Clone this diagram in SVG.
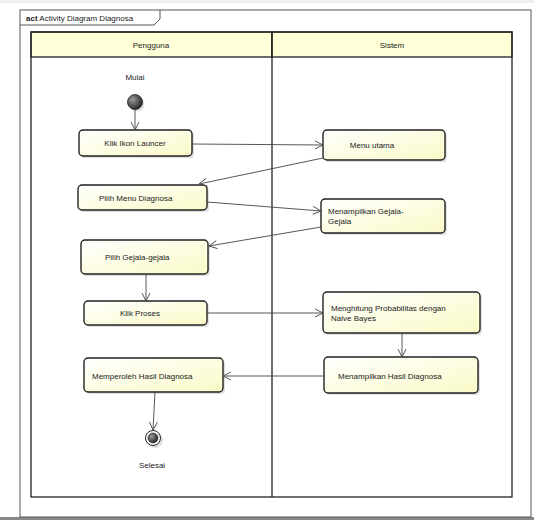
<svg xmlns="http://www.w3.org/2000/svg" width="534" height="520" viewBox="0 0 534 520">
<style>
text{font-family:"Liberation Sans",Arial,sans-serif;font-size:8px;fill:#222}
.act{fill:url(#g);stroke:#222;stroke-width:1.4}
.sh{fill:#ccc;opacity:0.6}
.c{fill:none;stroke:#444;stroke-width:0.9;marker-end:url(#a)}
.lane{fill:none;stroke:#222;stroke-width:1.3}
</style>
<defs>
<linearGradient id="g" x1="0" y1="0" x2="1" y2="1">
<stop offset="0" stop-color="#ffffff"/>
<stop offset="1" stop-color="#fafac8"/>
</linearGradient>
<radialGradient id="b" cx="0.35" cy="0.35" r="0.7">
<stop offset="0" stop-color="#999"/>
<stop offset="1" stop-color="#222"/>
</radialGradient>
<marker id="a" markerWidth="10" markerHeight="10" refX="9" refY="5" orient="auto" markerUnits="userSpaceOnUse">
<path d="M1,1 L9,5 L1,9" fill="none" stroke="#444" stroke-width="0.9"/>
</marker>
</defs>
<rect width="534" height="520" fill="#fff"/>
<rect x="0" y="0" width="534" height="3" fill="#eee"/>
<rect x="0" y="517" width="534" height="3" fill="#888"/>
<g id="frame">
<rect x="20" y="10" width="511" height="507" fill="none" stroke="#555" stroke-width="1"/>
<path d="M20,25 H154 L160,19 V10" fill="none" stroke="#555" stroke-width="1"/>
<text x="26" y="21"><tspan font-weight="bold">act</tspan> Activity Diagram Diagnosa</text>
</g>
<g id="lanes">
<rect x="31" y="32" width="241" height="25" fill="#ffffd8" stroke="#222" stroke-width="1.3"/>
<rect x="272" y="32" width="240" height="25" fill="#ffffd8" stroke="#222" stroke-width="1.3"/>
<rect x="31" y="32" width="481" height="465" class="lane"/>
<line x1="272" y1="32" x2="272" y2="497" stroke="#222" stroke-width="1.3"/>
<text x="151" y="48" text-anchor="middle">Pengguna</text>
<text x="392" y="48" text-anchor="middle">Sistem</text>
</g>
<g id="start">
<text x="135" y="80" text-anchor="middle">Mulai</text>
<circle cx="137" cy="104" r="7.5" fill="#ccc" opacity="0.6"/>
<circle cx="135" cy="102" r="7.5" fill="url(#b)" stroke="#222" stroke-width="0.8"/>
</g>
<g id="n1">
<rect x="81" y="132" width="113" height="26" rx="4" class="sh"/>
<rect x="79" y="130" width="113" height="26" rx="4" class="act"/>
<text x="135" y="146" text-anchor="middle">Klik Ikon Launcer</text>
</g>
<g id="n2">
<rect x="325" y="132" width="122" height="30" rx="4" class="sh"/>
<rect x="323" y="130" width="122" height="30" rx="4" class="act"/>
<text x="372" y="148" text-anchor="middle">Menu utama</text>
</g>
<g id="n3">
<rect x="80" y="187" width="129" height="25" rx="4" class="sh"/>
<rect x="78" y="185" width="129" height="25" rx="4" class="act"/>
<text x="99" y="201">Pilih Menu Diagnosa</text>
</g>
<g id="n4">
<rect x="323" y="201" width="124" height="34" rx="4" class="sh"/>
<rect x="321" y="199" width="124" height="34" rx="4" class="act"/>
<text x="328" y="214">Menampilkan Gejala-</text>
<text x="328" y="224">Gejala</text>
</g>
<g id="n5">
<rect x="83" y="242" width="127" height="34" rx="4" class="sh"/>
<rect x="81" y="240" width="127" height="34" rx="4" class="act"/>
<text x="105" y="260">Pilih Gejala-gejala</text>
</g>
<g id="n6">
<rect x="86" y="303" width="123" height="24" rx="4" class="sh"/>
<rect x="84" y="301" width="123" height="24" rx="4" class="act"/>
<text x="120" y="316">Klik Proses</text>
</g>
<g id="n7">
<rect x="325" y="294" width="157" height="41" rx="4" class="sh"/>
<rect x="323" y="292" width="157" height="41" rx="4" class="act"/>
<text x="331" y="311">Menghitung Probabilitas dengan</text>
<text x="331" y="321">Naive Bayes</text>
</g>
<g id="n8">
<rect x="326" y="359" width="154" height="36" rx="4" class="sh"/>
<rect x="324" y="357" width="154" height="36" rx="4" class="act"/>
<text x="338" y="379">Menampilkan Hasil Diagnosa</text>
</g>
<g id="n9">
<rect x="86" y="360" width="139" height="34" rx="4" class="sh"/>
<rect x="84" y="358" width="139" height="34" rx="4" class="act"/>
<text x="92" y="379">Memperoleh Hasil Diagnosa</text>
</g>
<g id="end">
<circle cx="155" cy="440" r="8" fill="#ccc" opacity="0.6"/>
<circle cx="153" cy="438" r="7.5" fill="#fff" stroke="#222" stroke-width="1"/>
<circle cx="153" cy="438" r="5" fill="url(#b)" stroke="#222" stroke-width="0.6"/>
<text x="152" y="468" text-anchor="middle">Selesai</text>
</g>
<g id="connectors">
<path class="c" d="M135,110 V130"/>
<path class="c" d="M192,144 L323,145"/>
<path class="c" d="M323,158 L199,184"/>
<path class="c" d="M207,202 L321,211"/>
<path class="c" d="M321,227 L209,246"/>
<path class="c" d="M146,274 V301"/>
<path class="c" d="M207,313 H323"/>
<path class="c" d="M402,333 V357"/>
<path class="c" d="M324,376 H223"/>
<path class="c" d="M155,392 L153,430"/>
</g>
</svg>
